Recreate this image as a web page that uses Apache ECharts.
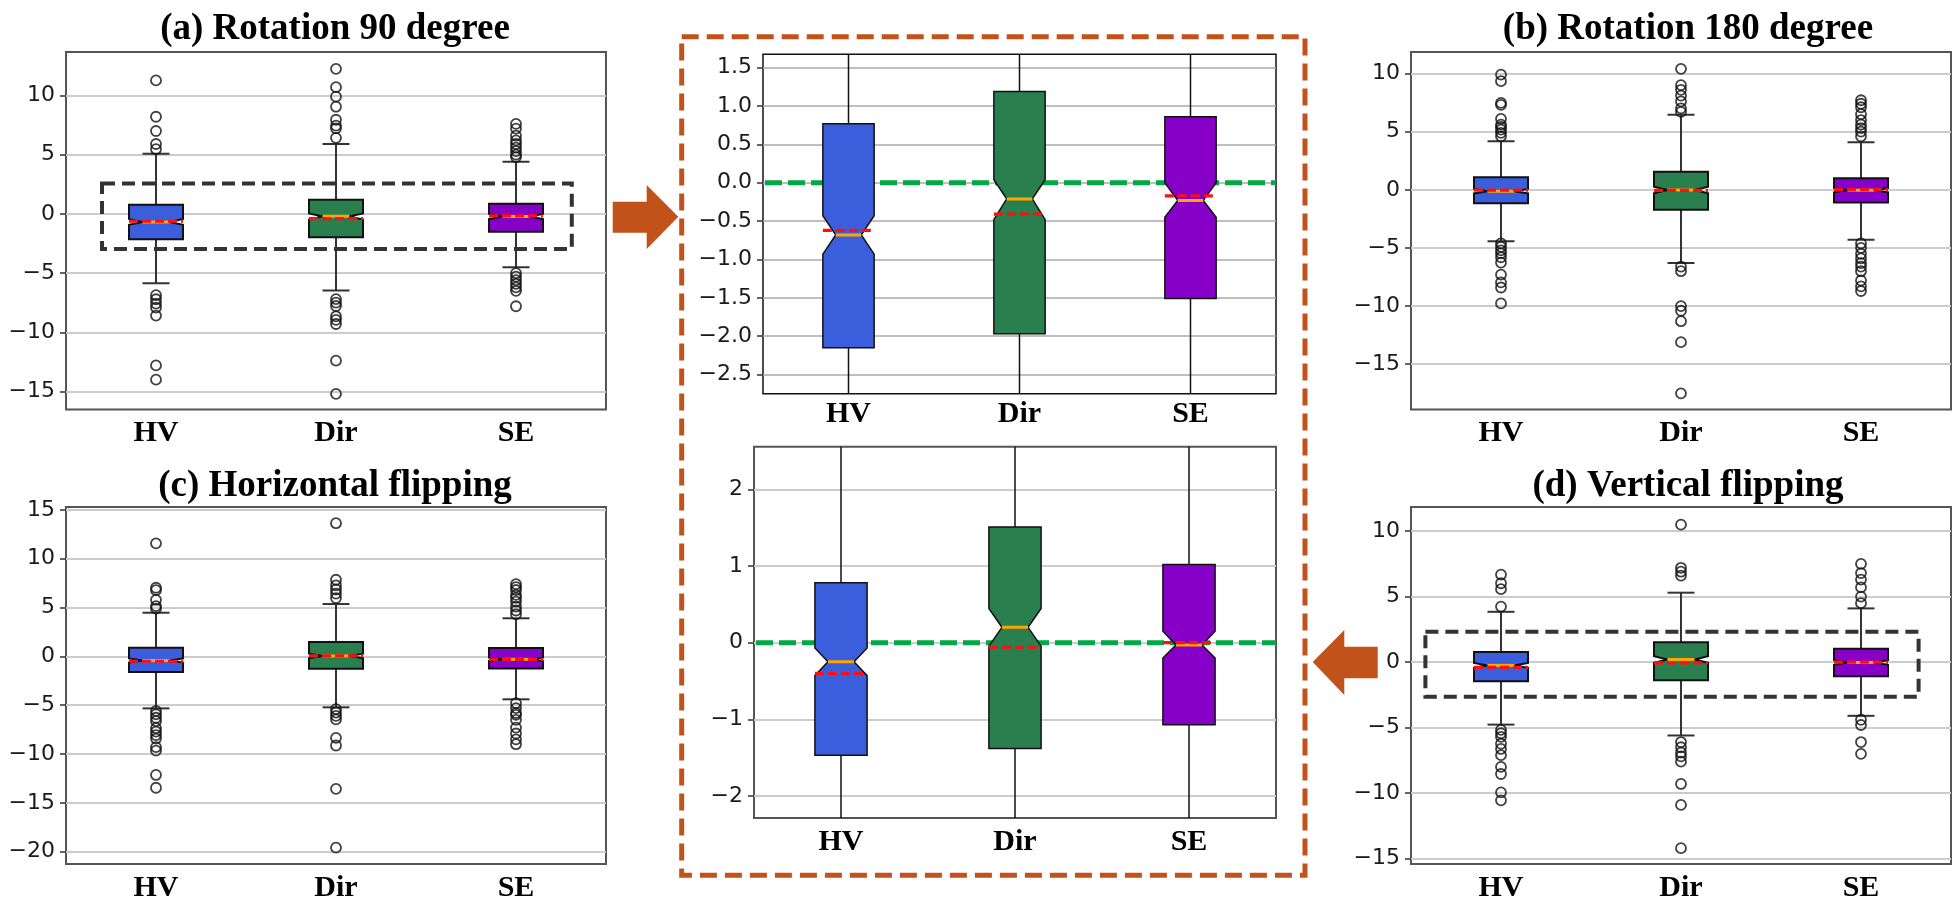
<!DOCTYPE html>
<html><head><meta charset="utf-8">
<script src="https://cdn.jsdelivr.net/npm/echarts@6/dist/echarts.min.js"></script>
<style>html,body{margin:0;padding:0;background:#fff}#c{width:1958px;height:904px}</style>
</head><body><div id="c"></div>
<script>
// ---------- data ----------
const categories = ['HV', 'Dir', 'SE'];
const panelTitles = ['(a) Rotation 90 degree', '(b) Rotation 180 degree', '(c) Horizontal flipping', '(d) Vertical flipping'];

// box stats: [whiskerLow, Q1, notchLow, median, notchHigh, Q3, whiskerHigh, mean]
const boxA_HV  = [-5.86, -2.15, -0.93, -0.68, -0.43, 0.77, 5.07, -0.62];
const boxA_Dir = [-6.48, -1.97, -0.48, -0.21, 0.04, 1.19, 5.90, -0.41];
const boxA_SE  = [-4.50, -1.51, -0.45, -0.23, 0.00, 0.86, 4.40, -0.17];
const outA_HV  = [11.27, 8.2, 7.0, 5.9, 5.46, -6.87, -7.21, -7.58, -7.92, -8.59, -12.8, -14.0];
const outA_Dir = [12.25, 10.7, 9.9, 9.05, 7.95, 7.45, 7.22, 6.42, -7.2, -7.5, -7.78, -8.65, -8.95, -9.3, -12.4, -15.2];
const outA_SE  = [7.6, 7.2, 6.6, 6.2, 5.9, 5.6, 5.3, 5.0, 4.8, -5.0, -5.3, -5.6, -5.9, -6.2, -6.5, -7.8];

const boxB_HV  = [-4.43, -1.15, -0.31, -0.12, 0.07, 1.09, 4.17, -0.02];
const boxB_Dir = [-6.30, -1.72, -0.30, -0.02, 0.26, 1.55, 6.45, -0.05];
const boxB_SE  = [-4.30, -1.10, -0.21, -0.03, 0.15, 1.00, 4.10, 0.02];
const outB_HV  = [9.9, 9.34, 7.47, 7.3, 6.1, 5.6, 5.4, 5.17, 4.9, 4.6, -4.6, -4.9, -5.2, -5.46, -5.8, -6.26, -7.3, -7.96, -8.4, -9.77];
const outB_Dir = [10.4, 9.0, 8.6, 8.1, 7.6, 7.0, 6.7, -6.6, -7.0, -10.0, -10.4, -11.3, -13.1, -17.5];
const outB_SE  = [7.7, 7.4, 7.1, 6.5, 6.0, 5.6, 5.3, 5.0, 4.6, -4.6, -5.0, -5.5, -5.9, -6.3, -6.6, -7.0, -7.8, -8.3, -8.7];

const boxC_HV  = [-5.33, -1.60, -0.64, -0.43, -0.22, 0.89, 4.47, -0.50];
const boxC_Dir = [-5.22, -1.28, -0.19, 0.04, 0.27, 1.46, 5.36, 0.04];
const boxC_SE  = [-4.40, -1.25, -0.47, -0.30, -0.13, 0.85, 3.90, -0.30];
const outC_HV  = [11.58, 7.03, 6.78, 5.79, 5.15, 4.9, -5.58, -5.93, -6.29, -6.64, -7.35, -7.7, -8.06, -8.42, -9.3, -9.66, -12.15, -13.46];
const outC_Dir = [13.64, 7.85, 7.28, 6.85, 6.43, 5.97, -5.4, -5.75, -6.1, -6.46, -8.35, -9.13, -13.57, -19.6];
const outC_SE  = [7.4, 7.1, 6.8, 6.3, 6.0, 5.6, 5.1, 4.7, 4.3, -4.8, -5.3, -5.8, -6.0, -6.5, -7.3, -7.9, -8.5, -9.0];

const boxD_HV  = [-4.77, -1.47, -0.43, -0.25, -0.07, 0.78, 3.84, -0.40];
const boxD_Dir = [-5.60, -1.38, -0.045, 0.20, 0.445, 1.51, 5.30, -0.06];
const boxD_SE  = [-4.10, -1.07, -0.20, -0.03, 0.15, 1.02, 4.10, 0.00];
const outD_HV  = [6.68, 6.02, 5.57, 4.24, -5.17, -5.43, -5.7, -6.23, -6.63, -7.1, -8.0, -8.54, -9.94, -10.55];
const outD_Dir = [10.5, 7.2, 6.9, 6.6, -6.1, -6.5, -6.9, -7.2, -7.6, -9.3, -10.9, -14.2];
const outD_SE  = [7.5, 6.8, 6.3, 5.7, 5.0, 4.5, -4.4, -4.8, -6.1, -7.0];

// axis ranges and tick labels
const yRangeA = [-16.53, 13.67], yTicksA = [-15, -10, -5, 0, 5, 10];
const yRangeB = [-18.9, 11.85],  yTicksB = [-15, -10, -5, 0, 5, 10];
const yRangeC = [-21.27, 15.3],  yTicksC = [-20, -15, -10, -5, 0, 5, 10, 15];
const yRangeD = [-15.41, 11.84], yTicksD = [-15, -10, -5, 0, 5, 10];
const yRangeZoomTop = [-2.75, 1.675], yTicksZoomTop = [-2.5, -2, -1.5, -1, -0.5, 0, 0.5, 1, 1.5];
const yRangeZoomBot = [-2.287, 2.556], yTicksZoomBot = [-2, -1, 0, 1, 2];

// highlighted regions (data units: x in category index, y in value)
const rectA_x = [-0.3, 2.31], rectA_y = [-2.96, 2.56];
const rectD_x = [-0.42, 2.32], rectD_y = [-2.65, 2.31];
const zeroRef = [0];

// ---------- styling / layout ----------
const boxColors = ['#3b5fdc', '#2a7f4f', '#8700c8'];
const orange = '#c1531a';
const grids = [
  {left: 66,   top: 52,    width: 540, height: 357.6},
  {left: 1411, top: 52,    width: 540, height: 357.6},
  {left: 66,   top: 507,   width: 540, height: 357},
  {left: 1411, top: 507,   width: 540, height: 357},
  {left: 763,  top: 54.3,  width: 513, height: 339.4},
  {left: 754,  top: 446.7, width: 522, height: 371.3}
];
const minus = s => s.replace('-', '\u2212');
const fmtInt = v => minus(String(v));
const fmt1 = v => minus(Number(v).toFixed(1));

const panels = [
  {stats: [boxA_HV, boxA_Dir, boxA_SE], outs: [outA_HV, outA_Dir, outA_SE], range: yRangeA, ticks: yTicksA, fmt: fmtInt, rect: [rectA_x, rectA_y]},
  {stats: [boxB_HV, boxB_Dir, boxB_SE], outs: [outB_HV, outB_Dir, outB_SE], range: yRangeB, ticks: yTicksB, fmt: fmtInt},
  {stats: [boxC_HV, boxC_Dir, boxC_SE], outs: [outC_HV, outC_Dir, outC_SE], range: yRangeC, ticks: yTicksC, fmt: fmtInt},
  {stats: [boxD_HV, boxD_Dir, boxD_SE], outs: [outD_HV, outD_Dir, outD_SE], range: yRangeD, ticks: yTicksD, fmt: fmtInt, rect: [rectD_x, rectD_y]},
  {stats: [boxA_HV, boxA_Dir, boxA_SE], outs: null, range: yRangeZoomTop, ticks: yTicksZoomTop, fmt: fmt1, zoom: true, labelMargin: 6},
  {stats: [boxD_HV, boxD_Dir, boxD_SE], outs: null, range: yRangeZoomBot, ticks: yTicksZoomBot, fmt: fmtInt, zoom: true}
];

function boxRenderer(zoom) {
  const lw = zoom ? 1.5 : 2;
  const wc = zoom ? '#111' : '#333';
  return function (params, api) {
    const i = api.value(0);
    const cx = api.coord([i, 0])[0];
    const band = api.size([1, 0])[0];
    const hw = band * 0.15, qw = band * 0.075;
    const y = k => api.coord([i, api.value(k)])[1];
    const wLo = y(1), q1 = y(2), nLo = y(3), med = y(4), nHi = y(5), q3 = y(6), wHi = y(7), mean = y(8);
    const ls = {stroke: wc, lineWidth: lw};
    return {type: 'group', children: [
      {type: 'line', shape: {x1: cx, y1: q3, x2: cx, y2: wHi}, style: ls},
      {type: 'line', shape: {x1: cx - qw, y1: wHi, x2: cx + qw, y2: wHi}, style: ls},
      {type: 'line', shape: {x1: cx, y1: q1, x2: cx, y2: wLo}, style: ls},
      {type: 'line', shape: {x1: cx - qw, y1: wLo, x2: cx + qw, y2: wLo}, style: ls},
      {type: 'polygon', shape: {points: [[cx - hw, q1], [cx - hw, nLo], [cx - qw, med], [cx - hw, nHi], [cx - hw, q3],
        [cx + hw, q3], [cx + hw, nHi], [cx + qw, med], [cx + hw, nLo], [cx + hw, q1]]},
        style: {fill: boxColors[i], stroke: '#111', lineWidth: lw}},
      {type: 'line', shape: {x1: cx - qw, y1: med, x2: cx + qw, y2: med}, style: {stroke: '#ffa500', lineWidth: 3}},
      {type: 'line', shape: {x1: cx - hw, y1: mean, x2: cx + hw, y2: mean}, style: {stroke: '#ff1010', lineWidth: 3.2, lineDash: [9, 4]}}
    ]};
  };
}

const xAxis = [], yAxis = [], series = [];
panels.forEach((p, g) => {
  xAxis.push({
    type: 'category', gridIndex: g, data: categories, boundaryGap: true,
    axisLine: {show: false},
    axisTick: {show: true, alignWithLabel: true, length: 6, lineStyle: {color: '#333', width: 1.5}},
    axisLabel: {margin: p.labelMargin || 9, color: '#000', fontFamily: 'Liberation Serif', fontWeight: 'bold', fontSize: 30},
    splitLine: {show: false}
  });
  yAxis.push({
    type: 'value', gridIndex: g, min: p.range[0], max: p.range[1],
    axisLine: {show: false},
    axisTick: {show: true, customValues: p.ticks, length: 6, lineStyle: {color: '#333', width: 1.5}},
    axisLabel: {customValues: p.ticks, formatter: p.fmt, margin: 11, color: '#1a1a1a', fontFamily: 'DejaVu Sans', fontSize: 22},
    splitLine: {show: true, lineStyle: {color: g === 4 ? '#aaaaaa' : '#cccccc', width: g === 4 ? 1.5 : 2}}
  });
  if (p.zoom) {
    series.push({
      type: 'custom', xAxisIndex: g, yAxisIndex: g, z: 2, silent: true,
      data: zeroRef.map(v => [0, v]), encode: {x: 0, y: 1},
      renderItem: function (params, api) {
        const yy = api.coord([0, api.value(1)])[1];
        const cs = params.coordSys;
        return {type: 'line', shape: {x1: cs.x + 2, y1: yy, x2: cs.x + cs.width, y2: yy},
          style: {stroke: '#00a846', lineWidth: 5, lineDash: [17, 6]}};
      }
    });
  }
  series.push({
    type: 'custom', xAxisIndex: g, yAxisIndex: g, z: 3, silent: true, clip: true,
    data: p.stats.map((s, i) => [i].concat(s)),
    encode: {x: 0, y: [1, 2, 3, 4, 5, 6, 7, 8]},
    renderItem: boxRenderer(!!p.zoom)
  });
  if (p.outs) {
    const pts = [];
    p.outs.forEach((arr, i) => arr.forEach(v => pts.push([i, v])));
    series.push({
      type: 'scatter', xAxisIndex: g, yAxisIndex: g, z: 4, silent: true,
      symbol: 'circle', symbolSize: 10, data: pts,
      itemStyle: {color: 'rgba(0,0,0,0)', borderColor: '#111', borderWidth: 1.8}
    });
  }
  if (p.rect) {
    const rx = p.rect[0], ry = p.rect[1];
    series.push({
      type: 'custom', xAxisIndex: g, yAxisIndex: g, z: 5, silent: true,
      data: [[0, ry[0], ry[1]]], encode: {x: 0, y: [1, 2]},
      renderItem: function (params, api) {
        const c0 = api.coord([0, api.value(1)]);
        const c1 = api.coord([0, api.value(2)]);
        const band = api.size([1, 0])[0];
        const x0 = c0[0] + rx[0] * band, x1 = c0[0] + rx[1] * band;
        return {type: 'rect', shape: {x: x0, y: c1[1], width: x1 - x0, height: c0[1] - c1[1]},
          style: {fill: 'none', stroke: '#333', lineWidth: 4, lineDash: [13, 7]}};
      }
    });
  }
});

const titleCenters = [[330, 6], [1683, 6], [330, 463], [1683, 463]];
const option = {
  animation: false,
  backgroundColor: '#fff',
  title: panelTitles.map((t, k) => ({
    text: t, left: titleCenters[k][0], top: titleCenters[k][1], textAlign: 'center',
    textStyle: {fontFamily: 'Liberation Serif', fontWeight: 'bold', fontSize: 37, color: '#000'}
  })),
  grid: grids.map((r, g) => Object.assign({show: true, backgroundColor: 'transparent',
    borderColor: g === 4 ? '#111' : '#555', borderWidth: g === 4 ? 1.5 : 2}, r)),
  xAxis: xAxis,
  yAxis: yAxis,
  series: series,
  graphic: [
    {type: 'rect', silent: true, shape: {x: 681.7, y: 36.7, width: 623.3, height: 838.6},
      style: {fill: 'none', stroke: orange, lineWidth: 5, lineDash: [17, 8]}},
    {type: 'polygon', silent: true, shape: {points: [[612.7, 201.7], [646.7, 201.7], [646.7, 185], [678.3, 216.7], [646.7, 249], [646.7, 232.7], [612.7, 232.7]]},
      style: {fill: orange}},
    {type: 'polygon', silent: true, shape: {points: [[1377.7, 646.7], [1344.3, 646.7], [1344.3, 630], [1312.7, 662], [1344.3, 695], [1344.3, 678.3], [1377.7, 678.3]]},
      style: {fill: orange}}
  ]
};
const chart = echarts.init(document.getElementById('c'), null, {width: 1958, height: 904});
chart.setOption(option);
</script>
</body></html>
